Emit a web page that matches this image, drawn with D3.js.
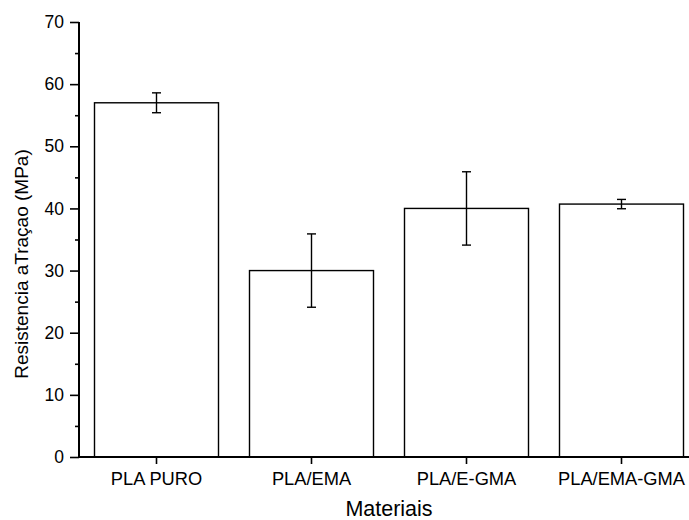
<!DOCTYPE html>
<html>
<head>
<meta charset="utf-8">
<script src="https://cdn.jsdelivr.net/npm/d3@7"></script>
<style>
  html, body { margin: 0; padding: 0; background: #fff; }
  text { font-family: "Liberation Sans", Arial, sans-serif; fill: #000; }
</style>
</head>
<body>
<svg id="chart" width="689" height="520"></svg>
<script>
const categories = ["PLA PURO", "PLA/EMA", "PLA/E-GMA", "PLA/EMA-GMA"];
const values = [57.0, 30.0, 40.0, 40.7];
const errors = [1.6, 5.9, 5.9, 0.75];
const yTicks = [0, 10, 20, 30, 40, 50, 60, 70];
const yMinorTicks = [5, 15, 25, 35, 45, 55, 65];
const xTitle = "Materiais";
const yTitle = "Resistencia aTraçao (MPa)";

const svg = d3.select("#chart");
const mLeft = 79, mRight = 699, mTop = 22, mBottom = 457;

const x = d3.scaleBand().domain(categories).range([mLeft, mRight]).paddingInner(0.2).paddingOuter(0.1);
const y = d3.scaleLinear().domain([0, 70]).range([mBottom, mTop]);

// bars
svg.append("g").selectAll("rect").data(categories).join("rect")
  .attr("x", d => x(d))
  .attr("width", x.bandwidth())
  .attr("y", (d, i) => y(values[i]))
  .attr("height", (d, i) => y(0) - y(values[i]))
  .attr("fill", "#fff")
  .attr("stroke", "#000")
  .attr("stroke-width", 1.4);

// error bars
const eb = svg.append("g").attr("stroke", "#000").attr("stroke-width", 1.4);
categories.forEach((c, i) => {
  const cx = x(c) + x.bandwidth() / 2;
  eb.append("line").attr("x1", cx).attr("x2", cx)
    .attr("y1", y(values[i] + errors[i])).attr("y2", y(values[i] - errors[i]));
  [values[i] + errors[i], values[i] - errors[i]].forEach(v => {
    eb.append("line").attr("x1", cx - 4.5).attr("x2", cx + 4.5)
      .attr("y1", y(v)).attr("y2", y(v));
  });
});

// y axis
const yAxis = d3.axisLeft(y).tickValues(yTicks).tickSize(9).tickPadding(6).tickFormat(d3.format("d"));
const yg = svg.append("g").attr("transform", `translate(${mLeft},0)`).call(yAxis);
yg.select(".domain").remove();
yg.selectAll(".tick line").attr("stroke-width", 1.6);
yg.selectAll("text").style("font-size", "17.5px").attr("fill", "#000");
const yMinor = d3.axisLeft(y).tickValues(yMinorTicks).tickSize(4).tickFormat("");
const ymg = svg.append("g").attr("transform", `translate(${mLeft},0)`).call(yMinor);
ymg.select(".domain").remove();
ymg.selectAll(".tick line").attr("stroke-width", 1.6);
svg.append("line").attr("x1", mLeft).attr("x2", mLeft).attr("y1", y(70)).attr("y2", y(0))
  .attr("stroke", "#000").attr("stroke-width", 2);

// x axis
const xAxis = d3.axisBottom(x).tickSize(7).tickPadding(8);
const xg = svg.append("g").attr("transform", `translate(0,${mBottom})`).call(xAxis);
xg.select(".domain").remove();
xg.selectAll(".tick line").attr("stroke-width", 1.6);
xg.selectAll("text").style("font-size", "18.3px").attr("fill", "#000");
svg.append("line").attr("x1", mLeft - 1).attr("x2", 689).attr("y1", y(0)).attr("y2", y(0))
  .attr("stroke", "#000").attr("stroke-width", 2);

// titles
svg.append("text").attr("x", 389).attr("y", 516).attr("text-anchor", "middle")
  .style("font-size", "21.5px").text(xTitle);
svg.append("text").attr("transform", "translate(28,264) rotate(-90)").attr("text-anchor", "middle")
  .style("font-size", "19px").text(yTitle);
</script>
</body>
</html>
